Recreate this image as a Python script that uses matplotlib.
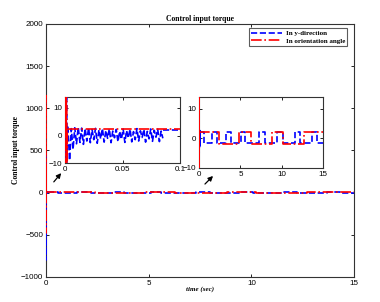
import numpy as np
import matplotlib
matplotlib.use("Agg")
import matplotlib.pyplot as plt

plt.rcParams["font.family"] = ["Liberation Sans", "DejaVu Sans"]

# initial transient (first 2 ms)
spike_t = [0, 0.0004, 0.0008, 0.0012, 0.0016, 0.002]
red_spike = [0, 1150, -480, 300, -60, 2.2]
blue_spike = [0, 450, -800, 120, -15, 3.0]

# blue chattering seen in the 0..0.1 s zoom
osc_t = np.linspace(0.0025, 0.085, 56)
blue_osc = [3.5, -9, 2.5, -5, 2.8, -3, 3.0, -2.5, 2.7, -3.2, 2.5, -2.0,
            2.8, -2.6, 2.2, -1.5, 2.6, -2.8, 2.0, -1.2, 2.5, -2.4, 1.8, -1.0,
            2.4, -2.6, 1.6, -0.8, 2.2, -2.2, 1.5, -1.4, 2.4, -2.5, 1.8, -0.9,
            2.3, -2.3, 1.4, -1.5, 2.5, -2.0, 1.7, -0.7, 2.2, -2.4, 1.5, -1.2,
            2.4, -2.1, 1.9, -0.6, 2.3, -2.2, 1.6, -1.0]

# switching afterwards (up to 15 s)
red_sw_t = [0.0025, 2.4, 4.8, 6.3, 8.8, 10.2, 12.7, 15]
red_sw = [2.2, -1.8, 2.2, -1.8, 2.2, -1.8, 2.2, 2.2]
blue_sw_t = [0.085, 0.6, 1.5, 2.2, 3.3, 3.8, 5.1, 5.6, 7.3, 8.0, 9.4, 10.1,
             11.6, 12.2, 13.7, 14.3, 15]
blue_sw = [2.0, -1.5, 2.0, -1.5, 2.0, -1.5, 2.0, -1.5, 2.0, -1.5, 2.0, -1.5,
           2.0, -1.5, 2.0, -1.5, -1.5]

serif = "Liberation Serif"
tick_fs = 5.8

blue_tr_t = list(spike_t) + list(osc_t)
blue_tr_y = list(blue_spike) + blue_osc

fig = plt.figure(figsize=(3.8, 3.02), dpi=100)


def style(ax):
    ax.tick_params(direction="in", top=True, right=True, labelsize=tick_fs,
                   length=2.5, width=0.6, pad=2)
    for s in ax.spines.values():
        s.set_linewidth(0.8)
        s.set_color("#333333")


def draw(ax, label=True):
    kw_b = dict(color="b", ls="--", lw=1.2, zorder=3)
    kw_r = dict(color="r", ls="-.", lw=1.2, zorder=3)
    ax.plot(blue_tr_t, blue_tr_y, label="In y-direction" if label else None, **kw_b)
    ax.plot(blue_sw_t, blue_sw, drawstyle="steps-post", **kw_b)
    ax.plot(spike_t, red_spike, label="In orientation angle" if label else None, **kw_r)
    ax.plot(red_sw_t, red_sw, drawstyle="steps-post", **kw_r)


ax = fig.add_axes([0.121, 0.083, 0.811, 0.838])
draw(ax)
ax.set_xlim(0, 15)
ax.set_ylim(-1000, 2000)
ax.set_xticks([0, 5, 10, 15])
ax.set_yticks(range(-1000, 2001, 500))
style(ax)
ax.set_title("Control input torque", fontsize=5.5, fontweight="bold",
             family=serif, pad=2)
ax.set_xlabel("time (sec)", fontsize=5, fontweight="bold", style="italic",
              family=serif, labelpad=0)
ax.set_ylabel("Control input torque", fontsize=5.5, fontweight="bold",
              family=serif, labelpad=1)
leg = ax.legend(loc="upper right", bbox_to_anchor=(347 / 380, 1 - 28 / 302),
                bbox_transform=fig.transFigure, borderaxespad=0,
                prop={"family": serif, "weight": "bold", "size": 5},
                fancybox=False, edgecolor="#333333", handlelength=4.5,
                borderpad=0.3, labelspacing=0.3, handletextpad=0.5)
leg.get_frame().set_linewidth(0.8)
leg.set_zorder(5)

# zoom 1: first 0.1 s
ax1 = fig.add_axes([0.171, 0.460, 0.303, 0.219])
draw(ax1, False)
ax1.set_xlim(0, 0.1)
ax1.set_ylim(-10, 14)
ax1.set_xticks([0, 0.05, 0.1])
ax1.set_xticklabels(["0", "0.05", "0.1"])
ax1.set_yticks([-10, 0, 10])
style(ax1)

# zoom 2: whole run
ax2 = fig.add_axes([0.524, 0.444, 0.326, 0.235])
draw(ax2, False)
ax2.set_xlim(0, 15)
ax2.set_ylim(-10, 14)
ax2.set_xticks([0, 5, 10, 15])
ax2.set_yticks([-10, 0, 10])
style(ax2)

for tail, head in [((52, 184), (63, 171)), ((203, 186), (215, 174))]:
    fig.add_artist(matplotlib.patches.FancyArrowPatch(
        (tail[0] / 380, 1 - tail[1] / 302), (head[0] / 380, 1 - head[1] / 302),
        transform=fig.transFigure, arrowstyle="-|>", mutation_scale=7,
        color="black", lw=0.9))

fig.savefig("out.png", dpi=100)
